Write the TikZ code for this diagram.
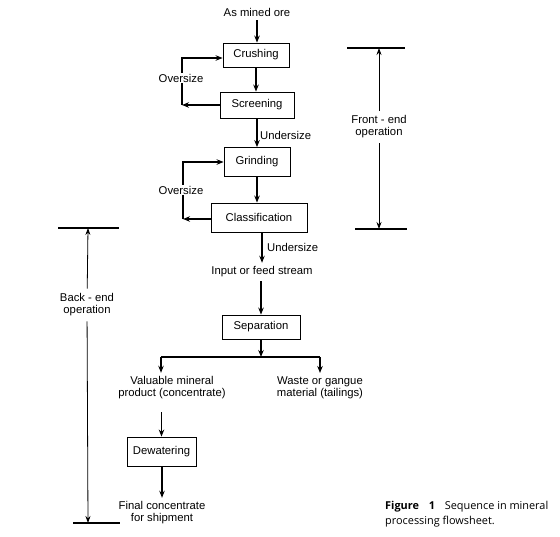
\documentclass[tikz,border=0pt]{standalone}
\usepackage{fontspec}
\setmainfont{Liberation Sans}
\newfontfamily\capfont{Open Sans}
\usetikzlibrary{arrows.meta}
\tikzstyle{arrow} = [line width=1.1pt, ->, >={Stealth[length=7pt, width=5.5pt]}]
\tikzstyle{line} = [line width=1.1pt]
\tikzstyle{box} = [draw, line width=0.9pt, inner sep=0pt]
\tikzstyle{dim} = [line width=0.8pt, ->, >={Stealth[length=7pt, width=5pt]}]
\tikzstyle{bar} = [line width=1.3pt]
\tikzstyle{lbl} = [fill=white, inner sep=1pt]

\begin{document}
\begin{tikzpicture}[x=1pt, y=-1pt]
    \useasboundingbox (0,0) rectangle (560,536);
    \fontsize{11.3}{12}\selectfont

    \node (ore) at (257,12) {As mined ore};
    \node[box, minimum width=66, minimum height=24] (cr) at (256,55) {Crushing};
    \node[box, minimum width=74, minimum height=26] (sc) at (257,105) {Screening};
    \node[box, minimum width=66, minimum height=29] (gr) at (257,162) {Grinding};
    \node[box, minimum width=96, minimum height=29] (cl) at (259,217.5) {Classification};
    \node (in) at (262,272) {Input or feed stream};
    \node[box, minimum width=78, minimum height=24] (sp) at (261,327) {Separation};
    \node[align=center] (vm) at (172,388) {Valuable mineral\\product (concentrate)};
    \node[align=center] (wg) at (320,388) {Waste or gangue\\material (tailings)};
    \node[box, minimum width=69, minimum height=29] (dw) at (161.5,451.5) {Dewatering};
    \node[align=center] (fc) at (162,513) {Final concentrate\\for shipment};

    \coordinate (o1) at (182,105);
    \coordinate (o2) at (183,219);
    \coordinate (jl) at (161,357);
    \coordinate (jr) at (320,357);
    \coordinate (jm) at (261,357);

    \draw[arrow] (ore) -- (ore |- cr.north);
    \draw[arrow] (cr) -- (cr |- sc.north);
    \draw[arrow] (sc) -- (sc |- gr.north);
    \draw[arrow] (gr) -- (gr |- cl.north);
    \draw[arrow] (in.south -| sp.north) -- (sp.north);
    \draw[arrow] (sp.south) -- (jm);
    \draw[line] (jl) -- (jr);
    \draw[arrow] (jl) -- (jl |- vm.north);
    \draw[arrow] (jr) -- (wg.north);
    \draw[arrow] ([yshift=-9pt]dw.north |- vm.south) -- (dw.north);
    \draw[arrow] (dw.south -| fc.north) -- (fc.north);
    \draw[arrow] ([xshift=3pt]cl.south) -- ([xshift=3pt]cl.south |- in.north);

    \draw[arrow] (sc.west |- o1) -- (o1);
    \draw[arrow] (o1) |- ([yshift=-3pt]cr.west);
    \draw[arrow] (cl.west |- o2) -- (o2);
    \draw[arrow] (o2) |- (gr.west);
    \node[lbl] (ov1) at (181,78) {Oversize};
    \node[lbl] (ov2) at (181,190) {Oversize};
    \node[anchor=west, inner sep=1pt] (us1) at (259,135) {Undersize};
    \node[anchor=west, inner sep=1pt] (us2) at (266,247) {Undersize};

    % front end
    \coordinate (ft) at (379,48);
    \coordinate (fb) at (379,229);
    \draw[bar] (347,48) -- (405,48);
    \draw[bar] (355,229) -- (407,229);
    \node[align=center, inner sep=5pt] (fe) at (379,127) {Front - end\\operation};
    \draw[dim] (fe) -- (ft);
    \draw[dim] (fe) -- (fb);

    % back end
    \coordinate (bt) at (88,228);
    \coordinate (bb) at (88,523);
    \draw[bar] (58,228) -- (119,228);
    \draw[bar] (73,523) -- (120,523);
    \node[align=center, inner sep=5pt] (be) at (87,305) {Back - end\\operation};
    \draw[dim] (be) -- (bt);
    \draw[dim] (be) -- (bb);

    \node[anchor=north west, align=left, inner sep=0pt,
        font=\capfont\fontsize{10.9}{15}\selectfont] (cap) at (385,501)
        {\textbf{Figure\hspace{0.9em}1}\hspace{0.9em}Sequence in mineral\\processing flowsheet.};
\end{tikzpicture}
\end{document}
